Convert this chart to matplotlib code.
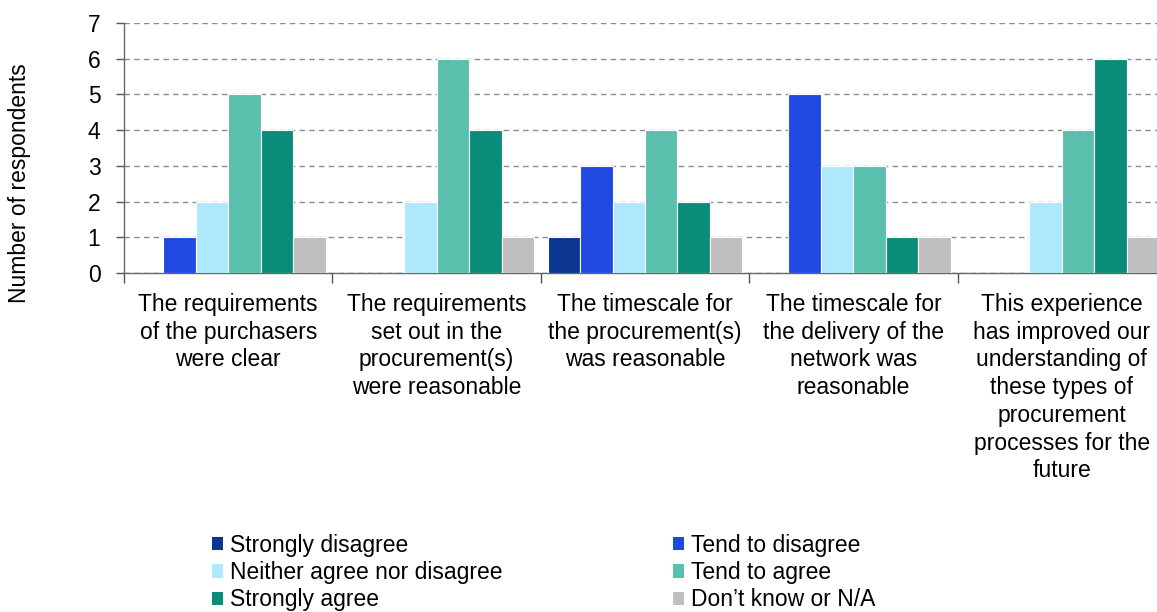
import numpy as np
import matplotlib.pyplot as plt
from matplotlib.patches import Patch

plt.rcParams['font.family'] = ['Liberation Sans', 'DejaVu Sans']

categories = [
    "The requirements\nof the purchasers\nwere clear",
    "The requirements\nset out in the\nprocurement(s)\nwere reasonable",
    "The timescale for\nthe procurement(s)\nwas reasonable",
    "The timescale for\nthe delivery of the\nnetwork was\nreasonable",
    "This experience\nhas improved our\nunderstanding of\nthese types of\nprocurement\nprocesses for the\nfuture",
]
series_names = ["Strongly disagree", "Tend to disagree", "Neither agree nor disagree",
                "Tend to agree", "Strongly agree", "Don\u2019t know or N/A"]
strongly_disagree = [0, 0, 1, 0, 0]
tend_disagree = [1, 0, 3, 5, 0]
neither = [2, 2, 2, 3, 2]
tend_agree = [5, 6, 4, 3, 4]
strongly_agree = [4, 4, 2, 1, 6]
dont_know = [1, 1, 1, 1, 1]
colors = ["#0a3591", "#2049e2", "#aee8fd", "#5bbfad", "#0b8c7a", "#bfbfbf"]

series = [strongly_disagree, tend_disagree, neither, tend_agree, strongly_agree, dont_know]
FS = 16.5

W, H = 1157, 612
fig = plt.figure(figsize=(W / 100, H / 100), dpi=100)
# plot area runs past the right edge, so the last group is cut off
ax = fig.add_axes([124 / W, 1 - 273 / H, 1042 / W, 250 / H])

x = np.arange(len(categories))
bw = 0.935 / 6
for i, (vals, c) in enumerate(zip(series, colors)):
    ax.bar(x - 0.4675 + bw * (i + 0.5), vals, width=bw, color=c,
           edgecolor='white', linewidth=0.8, zorder=3)

ax.set_xlim(-0.5, len(categories) - 0.5)
ax.set_ylim(0, 7)
ax.set_yticks(range(0, 8))
ax.tick_params(axis='y', labelsize=FS, length=6, width=1, color='#555555', pad=11)
ax.set_xticks(np.arange(-0.5, len(categories), 1.0))
ax.set_xticklabels([])
ax.set_xticks(x, minor=True)
ax.set_xticklabels(categories, minor=True, fontsize=FS, linespacing=1.26)
ax.tick_params(axis='x', which='major', length=7, width=1, color='#555555', direction='out')
ax.tick_params(axis='x', which='minor', length=0, pad=14.5)

ax.yaxis.grid(True, linestyle=(0, (4, 3)), color='#8c8c8c', linewidth=1, zorder=0)
for s in ['top', 'right']:
    ax.spines[s].set_visible(False)
for s in ['left', 'bottom']:
    ax.spines[s].set_color('#666666')
    ax.spines[s].set_linewidth(1)

fig.text(20 / W, 1 - 183 / H, "Number of respondents", rotation=90,
         va='center', ha='center', fontsize=FS)

handles = [Patch(facecolor=c, edgecolor='none') for c in colors]
leg_kw = dict(loc='upper left', frameon=False, fontsize=FS, handlelength=0.5,
              handleheight=0.5, handletextpad=0.28, labelspacing=0.18,
              borderaxespad=0, borderpad=0)
left_col = [0, 2, 4]
right_col = [1, 3, 5]
fig.legend([handles[i] for i in left_col], [series_names[i] for i in left_col],
           bbox_to_anchor=(212 / W, 1 - 534 / H), **leg_kw)
fig.legend([handles[i] for i in right_col], [series_names[i] for i in right_col],
           bbox_to_anchor=(673 / W, 1 - 534 / H), **leg_kw)

fig.savefig("out.png", dpi=100)
